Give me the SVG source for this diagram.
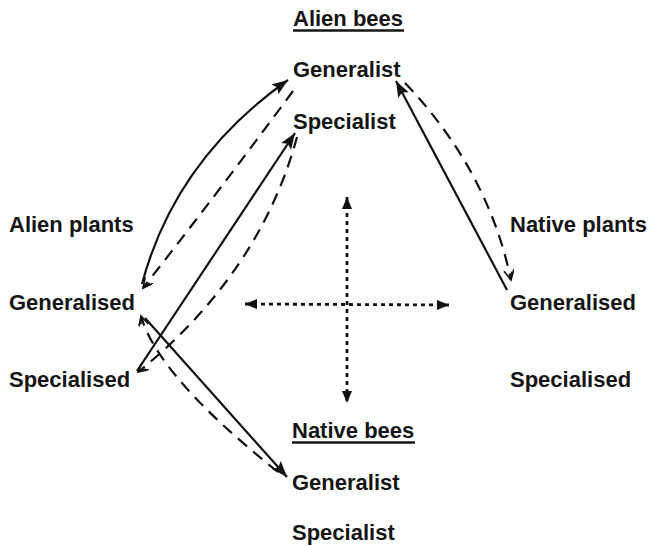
<svg xmlns="http://www.w3.org/2000/svg" width="649" height="546" viewBox="0 0 649 546">
  <defs>
    <style>
      .lbl { font-family: "Liberation Sans", Arial, sans-serif; font-size: 22px; font-weight: bold; fill: #151515; }
      .ul { stroke: #151515; stroke-width: 2.4; }
      .solid { fill: none; stroke: #111; stroke-width: 2.2; }
      .dash { fill: none; stroke: #111; stroke-width: 2.2; stroke-dasharray: 12 8; }
      .dot { fill: none; stroke: #111; stroke-width: 2.8; stroke-dasharray: 4 4; }
    </style>
    <marker id="filled" markerUnits="userSpaceOnUse" markerWidth="18" markerHeight="14" refX="16" refY="6" orient="auto">
      <path d="M0,0 L16,6 L0,12 L3,6 Z" fill="#111"/>
    </marker>
    <marker id="open" markerUnits="userSpaceOnUse" markerWidth="14" markerHeight="12" refX="10" refY="5" orient="auto">
      <path d="M0,0 L10,5 L0,10 M2,2.5 L8,5" fill="none" stroke="#111" stroke-width="1.6"/>
    </marker>
    <marker id="dothead" markerUnits="userSpaceOnUse" markerWidth="14" markerHeight="12" refX="12" refY="5" orient="auto-start-reverse">
      <path d="M0,0 L12,5 L0,10 Z" fill="#111"/>
    </marker>
  </defs>

  <g id="alien-bees">
    <text class="lbl" x="293" y="26">Alien bees</text>
    <line class="ul" x1="293" y1="30.5" x2="404" y2="30.5"/>
    <text class="lbl" x="293" y="77">Generalist</text>
    <text class="lbl" x="293" y="129">Specialist</text>
  </g>
  <g id="alien-plants">
    <text class="lbl" x="9" y="232">Alien plants</text>
    <text class="lbl" x="9" y="310">Generalised</text>
    <text class="lbl" x="9" y="387">Specialised</text>
  </g>
  <g id="native-plants">
    <text class="lbl" x="510" y="232">Native plants</text>
    <text class="lbl" x="510" y="310">Generalised</text>
    <text class="lbl" x="510" y="387">Specialised</text>
  </g>
  <g id="native-bees">
    <text class="lbl" x="292" y="438">Native bees</text>
    <line class="ul" x1="292" y1="442.5" x2="415" y2="442.5"/>
    <text class="lbl" x="292" y="490">Generalist</text>
    <text class="lbl" x="292" y="540">Specialist</text>
  </g>

  <g id="connectors">
    <!-- Alien generalised plants <-> alien generalist bees -->
    <path class="solid" d="M142,284 Q175,160 288,80" marker-end="url(#filled)"/>
    <path class="dash" d="M293,91 Q220,190 143,288" marker-end="url(#open)"/>
    <!-- Alien specialised plants <-> alien specialist bees -->
    <path class="solid" d="M137,371 L295,133" marker-end="url(#filled)"/>
    <path class="dash" d="M297,137 C280,200 240,290 138,372" marker-end="url(#open)"/>
    <!-- Native generalised plants <-> alien generalist bees -->
    <path class="solid" d="M507,290 L396,81" marker-end="url(#filled)"/>
    <path class="dash" d="M405,83 Q488,170 511,280" marker-end="url(#open)"/>
    <!-- Alien generalised plants <-> native generalist bees -->
    <path class="solid" d="M145,318 L287,477" marker-end="url(#filled)"/>
    <path class="dash" d="M278,472 C200,410 152,356 141,316" marker-end="url(#open)"/>
    <!-- central dotted cross -->
    <path class="dot" d="M347,197 L347,403" marker-start="url(#dothead)" marker-end="url(#dothead)"/>
    <path class="dot" d="M245,304 L449,305" marker-start="url(#dothead)" marker-end="url(#dothead)"/>
  </g>
</svg>
